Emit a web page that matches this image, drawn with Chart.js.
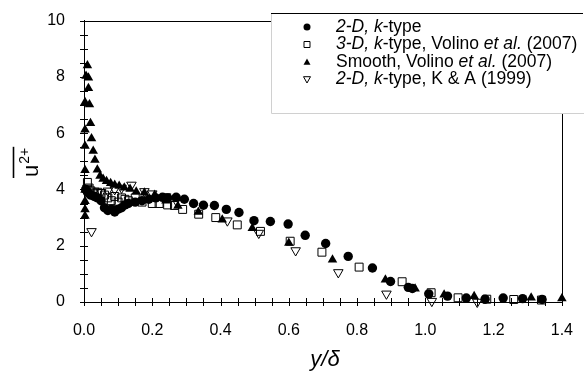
<!DOCTYPE html>
<html>
<head>
<meta charset="utf-8">
<script src="https://cdn.jsdelivr.net/npm/chart.js@4/dist/chart.umd.min.js"></script>
<style>
  html, body { margin: 0; background: #fff; }
</style>
</head>
<body>
<canvas id="chart" width="584" height="371"></canvas>
<script>
const FONT = '"Liberation Sans", Arial, sans-serif';

// 2-D, k-type (filled circles)
const circleX = [0.005, 0.01, 0.015, 0.02, 0.03, 0.04, 0.05, 0.06, 0.07, 0.08, 0.09, 0.1, 0.11, 0.12, 0.13, 0.15, 0.17, 0.19, 0.21, 0.23,
                 0.245, 0.27, 0.294, 0.321, 0.35, 0.382, 0.417, 0.454, 0.498, 0.546, 0.598, 0.648, 0.708, 0.774, 0.845, 0.898, 0.95, 0.962,
                 1.01, 1.065, 1.12, 1.175, 1.228, 1.285, 1.342];
const circleY = [4.0, 3.9, 3.85, 3.8, 3.75, 3.7, 3.6, 3.35, 3.25, 3.3, 3.2, 3.3, 3.35, 3.45, 3.5, 3.55, 3.6, 3.65, 3.7, 3.72,
                 3.7, 3.72, 3.65, 3.5, 3.44, 3.43, 3.29, 3.18, 2.89, 2.86, 2.77, 2.37, 2.08, 1.62, 1.21, 0.73, 0.52, 0.48,
                 0.29, 0.21, 0.14, 0.1, 0.14, 0.12, 0.09];

// 3-D, k-type, Volino et al. (open squares)
const squareX = [0.01, 0.015, 0.02, 0.03, 0.04, 0.05, 0.06, 0.07, 0.08, 0.09, 0.1, 0.11, 0.12, 0.13, 0.15, 0.17, 0.2, 0.22, 0.245,
                 0.265, 0.289, 0.336, 0.386, 0.449, 0.517, 0.604, 0.697, 0.806, 0.932, 1.017, 1.096, 1.18, 1.259, 1.34];
const squareY = [4.25, 4.05, 3.95, 3.85, 3.9, 3.85, 3.8, 3.7, 3.6, 3.75, 3.55, 3.7, 3.65, 3.6, 3.7, 3.55, 3.5, 3.5, 3.45,
                 3.43, 3.29, 3.12, 3.0, 2.74, 2.51, 2.16, 1.77, 1.24, 0.72, 0.33, 0.15, 0.1, 0.09, 0.07];

// Smooth, Volino et al. (filled triangles)
const smoothX = [0.003, 0.003, 0.003, 0.003, 0.003, 0.003, 0.003, 0.003, 0.006, 0.01, 0.013, 0.013, 0.016, 0.019, 0.022, 0.027, 0.032,
                 0.039, 0.047, 0.056, 0.066, 0.078, 0.09, 0.103, 0.118, 0.135, 0.153, 0.177, 0.207, 0.24, 0.275, 0.335, 0.405,
                 0.493, 0.6, 0.728, 0.883, 0.97, 1.055, 1.143, 1.31, 1.4];
const smoothY = [3.06, 3.29, 3.58, 3.98, 4.68, 5.54, 6.12, 7.1, 8.03, 8.4, 7.97, 7.6, 7.02, 6.35, 5.81, 5.37, 5.05,
                 4.7, 4.48, 4.37, 4.29, 4.22, 4.16, 4.12, 4.06, 4.02, 3.92, 3.88, 3.8, 3.6, 3.41, 3.2, 2.92,
                 2.62, 2.1, 1.5, 0.79, 0.47, 0.26, 0.2, 0.15, 0.12];

// 2-D, k-type, K & A (open down triangles)
const kaX = [0.022, 0.01, 0.03, 0.05, 0.07, 0.09, 0.11, 0.139, 0.177, 0.2, 0.24, 0.27, 0.42, 0.512, 0.62, 0.745, 0.886, 1.019, 1.152];
const kaY = [2.51, 4.05, 3.95, 3.9, 3.95, 4.0, 4.05, 4.16, 3.93, 3.85, 3.75, 3.6, 2.89, 2.45, 1.83, 1.05, 0.29, 0.03, 0.0];

const xTickLabels = [0, 0.2, 0.4, 0.6, 0.8, 1.0, 1.2, 1.4];
const yTickLabels = [0, 2, 4, 6, 8, 10];

const legendRows = [
    [['2-D, k', true], ['-type', false]],
    [['3-D, k', true], ['-type, Volino ', false], ['et al.', true], [' (2007)', false]],
    [['Smooth, Volino ', false], ['et al.', true], [' (2007)', false]],
    [['2-D, k', true], ['-type, K & A (1999)', false]],
];
const legendMarks = ['circle', 'square', 'up', 'down'];

const pts = (xs, ys) => xs.map((x, i) => ({ x, y: ys[i] }));

function mark(ctx, type, x, y, s) {
    ctx.save();
    ctx.beginPath();
    ctx.lineWidth = 1;
    ctx.strokeStyle = '#000';
    ctx.fillStyle = '#000';
    if (type === 'circle') {
        ctx.arc(x, y, s, 0, Math.PI * 2);
        ctx.fill();
    } else if (type === 'square') {
        ctx.rect(x - s + 0.5, y - s + 0.5, 2 * s - 1, 2 * s - 1);
        ctx.stroke();
    } else if (type === 'up') {
        ctx.moveTo(x, y - s);
        ctx.lineTo(x + s, y + s * 0.8);
        ctx.lineTo(x - s, y + s * 0.8);
        ctx.closePath();
        ctx.fill();
    } else {
        ctx.moveTo(x - s, y - s * 0.8);
        ctx.lineTo(x + s, y - s * 0.8);
        ctx.lineTo(x, y + s);
        ctx.closePath();
        ctx.stroke();
    }
    ctx.restore();
}

const decor = {
    id: 'decor',
    beforeDatasetsDraw(chart) {
        const { ctx, chartArea: a, scales: { x, y } } = chart;
        ctx.save();
        ctx.strokeStyle = '#000';
        ctx.lineWidth = 1;
        ctx.beginPath();
        // frame top + right
        ctx.moveTo(a.left, Math.round(a.top) + 0.5);
        ctx.lineTo(Math.round(a.right) + 0.5, Math.round(a.top) + 0.5);
        ctx.lineTo(Math.round(a.right) + 0.5, a.bottom);
        // crossing ticks
        for (let i = 0; i <= 28; i++) {
            const px = Math.round(x.getPixelForValue(i * 0.05)) + 0.5;
            ctx.moveTo(px, a.bottom - 4);
            ctx.lineTo(px, a.bottom + 4);
        }
        for (let i = 0; i <= 20; i++) {
            const py = Math.round(y.getPixelForValue(i * 0.5)) + 0.5;
            ctx.moveTo(a.left - 4, py);
            ctx.lineTo(a.left + 4, py);
        }
        ctx.stroke();
        ctx.restore();
    },
    afterDraw(chart) {
        const { ctx } = chart;
        ctx.save();
        // legend box (white, covers the frame corner)
        ctx.fillStyle = '#fff';
        ctx.fillRect(272, 14, 312, 100);
        ctx.strokeStyle = '#d0d0d0';
        ctx.lineWidth = 1;
        ctx.beginPath();
        ctx.moveTo(271.5, 13);
        ctx.lineTo(271.5, 113.5);
        ctx.lineTo(584, 113.5);
        ctx.stroke();
        ctx.strokeStyle = '#000';
        ctx.beginPath();
        ctx.moveTo(271, 13.5);
        ctx.lineTo(583, 13.5);
        ctx.stroke();
        ctx.textBaseline = 'middle';
        ctx.fillStyle = '#000';
        const rowY = [27, 44.5, 62, 79.5];
        legendRows.forEach((row, i) => {
            mark(ctx, legendMarks[i], 307, rowY[i], 3.5);
            let tx = 336;
            row.forEach(([txt, it]) => {
                ctx.font = (it ? 'italic ' : '') + '17.5px ' + FONT;
                ctx.fillText(txt, tx, rowY[i]);
                tx += ctx.measureText(txt).width;
            });
        });

        // x title
        ctx.font = 'italic 22px ' + FONT;
        ctx.textAlign = 'center';
        ctx.textBaseline = 'alphabetic';
        ctx.fillText('y/\u03b4', 325, 366);

        // y title: u^{2+} with overline, rotated
        ctx.translate(38, 177);
        ctx.rotate(-Math.PI / 2);
        ctx.textAlign = 'left';
        ctx.font = '22px ' + FONT;
        ctx.fillText('u', 0, 0);
        const wu = ctx.measureText('u').width;
        ctx.font = '14px ' + FONT;
        ctx.fillText('2+', wu + 1, -9);
        const w2 = ctx.measureText('2+').width;
        ctx.beginPath();
        ctx.lineWidth = 1.6;
        ctx.moveTo(-1, -24.5);
        ctx.lineTo(wu + 2 + w2, -24.5);
        ctx.stroke();
        ctx.restore();
    },
};

const tickFont = { family: FONT, size: 16 };

new Chart(document.getElementById('chart'), {
    type: 'scatter',
    data: {
        datasets: [
            { label: '2-D, k-type', data: pts(circleX, circleY), pointStyle: 'circle', pointRadius: 4.7,
              backgroundColor: '#000', borderColor: '#000', borderWidth: 0 },
            { label: '3-D, k-type, Volino et al. (2007)', data: pts(squareX, squareY), pointStyle: 'rect', pointRadius: 5.6,
              backgroundColor: 'rgba(0,0,0,0)', borderColor: '#000', borderWidth: 1 },
            { label: 'Smooth, Volino et al. (2007)', data: pts(smoothX, smoothY), pointStyle: 'triangle', pointRadius: 5.5,
              backgroundColor: '#000', borderColor: '#000', borderWidth: 0 },
            { label: '2-D, k-type, K & A (1999)', data: pts(kaX, kaY), pointStyle: 'triangle', pointRotation: 180, pointRadius: 5.5,
              backgroundColor: 'rgba(0,0,0,0)', borderColor: '#000', borderWidth: 1 },
        ],
    },
    options: {
        responsive: false,
        animation: false,
        clip: false,
        layout: { padding: { top: 13, right: 19, left: 0, bottom: 0 } },
        plugins: { legend: { display: false }, tooltip: { enabled: false } },
        scales: {
            x: {
                type: 'linear', min: 0, max: 1.4,
                afterFit: s => { s.height = 69; },
                afterBuildTicks: s => { s.ticks = xTickLabels.map(v => ({ value: v })); },
                ticks: { color: '#000', font: tickFont, padding: 11, maxRotation: 0, autoSkip: false,
                         callback: v => v.toFixed(1) },
                grid: { display: false },
                border: { display: true, color: '#000', width: 1 },
            },
            y: {
                type: 'linear', min: 0, max: 10,
                afterFit: s => { s.width = 84; },
                afterBuildTicks: s => { s.ticks = yTickLabels.map(v => ({ value: v })); },
                ticks: { color: '#000', font: tickFont, padding: 11, callback: v => String(v) },
                grid: { display: false },
                border: { display: true, color: '#000', width: 1 },
            },
        },
    },
    plugins: [decor],
});
</script>
</body>
</html>
